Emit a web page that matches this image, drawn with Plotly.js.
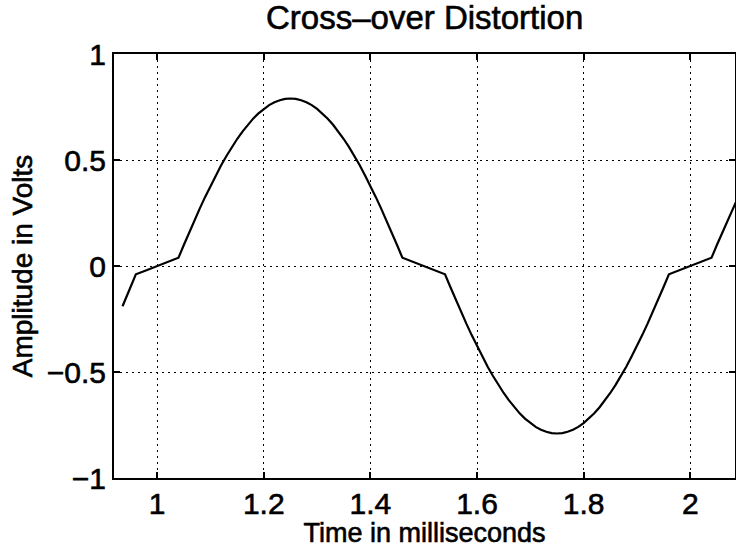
<!DOCTYPE html>
<html>
<head>
<meta charset="utf-8">
<script src="https://cdn.plot.ly/plotly-3.0.1.min.js"></script>
<style>
html,body{margin:0;padding:0;background:#fff;}
#chart text{stroke:#000;stroke-width:0.6px;}
</style>
</head>
<body>
<div id="chart" style="width:736px;height:548px;"></div>
<script>
// Time in milliseconds
var timeMs = [0.935, 0.96, 0.98, 1.00, 1.02, 1.04, 1.05, 1.06, 1.07, 1.08, 1.09, 1.10, 1.11, 1.12, 1.13, 1.14, 1.15, 1.16, 1.17, 1.18, 1.19, 1.20, 1.21, 1.22, 1.23, 1.24, 1.25, 1.26, 1.27, 1.28, 1.29, 1.30, 1.31, 1.32, 1.33, 1.34, 1.35, 1.36, 1.37, 1.38, 1.39, 1.40, 1.41, 1.42, 1.43, 1.44, 1.45, 1.46, 1.48, 1.50, 1.52, 1.54, 1.55, 1.56, 1.57, 1.58, 1.59, 1.60, 1.61, 1.62, 1.63, 1.64, 1.65, 1.66, 1.67, 1.68, 1.69, 1.70, 1.71, 1.72, 1.73, 1.74, 1.75, 1.76, 1.77, 1.78, 1.79, 1.80, 1.81, 1.82, 1.83, 1.84, 1.85, 1.86, 1.87, 1.88, 1.89, 1.90, 1.91, 1.92, 1.93, 1.94, 1.95, 1.96, 1.98, 2.00, 2.02, 2.04, 2.05, 2.06, 2.07, 2.08, 2.09, 2.10];
// Amplitude in volts
var amplitude = [-0.19, -0.039, -0.02, 0.00, 0.02, 0.039, 0.099, 0.158, 0.216, 0.272, 0.326, 0.378, 0.427, 0.475, 0.519, 0.561, 0.599, 0.634, 0.666, 0.695, 0.720, 0.741, 0.759, 0.772, 0.782, 0.788, 0.790, 0.788, 0.782, 0.772, 0.759, 0.741, 0.720, 0.695, 0.666, 0.634, 0.599, 0.561, 0.519, 0.475, 0.427, 0.378, 0.326, 0.272, 0.216, 0.158, 0.099, 0.039, 0.02, 0.00, -0.02, -0.039, -0.099, -0.158, -0.216, -0.272, -0.326, -0.378, -0.427, -0.475, -0.519, -0.561, -0.599, -0.634, -0.666, -0.695, -0.720, -0.741, -0.759, -0.772, -0.782, -0.788, -0.790, -0.788, -0.782, -0.772, -0.759, -0.741, -0.720, -0.695, -0.666, -0.634, -0.599, -0.561, -0.519, -0.475, -0.427, -0.378, -0.326, -0.272, -0.216, -0.158, -0.099, -0.039, -0.02, 0.00, 0.02, 0.039, 0.099, 0.158, 0.216, 0.272, 0.326, 0.378];
var xTicks = [1, 1.2, 1.4, 1.6, 1.8, 2];
var xTickLabels = ["1", "1.2", "1.4", "1.6", "1.8", "2"];
var yTicks = [-1, -0.5, 0, 0.5, 1];
var yTickLabels = ["\u22121", "\u22120.5", "0", "0.5", "1"];

var font = "Liberation Sans, Arial, Helvetica, sans-serif";

var trace = {
  x: timeMs,
  y: amplitude,
  type: "scatter",
  mode: "lines",
  line: {color: "#000", width: 2.2},
  hoverinfo: "skip"
};

var axisCommon = {
  showline: true,
  linecolor: "#000",
  linewidth: 2,
  mirror: "ticks",
  ticks: "inside",
  ticklen: 6,
  tickwidth: 2,
  tickcolor: "#000",
  showgrid: true,
  gridcolor: "#000",
  gridwidth: 1,
  griddash: "2px,4px",
  zeroline: false,
  tickfont: {family: font, size: 30, color: "#000"},
  tickmode: "array"
};

var layout = {
  width: 736,
  height: 548,
  margin: {l: 114, r: 1, t: 54, b: 70},
  paper_bgcolor: "#fff",
  plot_bgcolor: "#fff",
  showlegend: false,
  title: {
    text: "Cross\u2013over Distortion",
    font: {family: font, size: 33, color: "#000"},
    x: 0.577, xanchor: "center",
    y: 0.968, yanchor: "middle"
  },
  xaxis: Object.assign({}, axisCommon, {
    range: [0.919, 2.084],
    tickvals: xTicks,
    ticktext: xTickLabels,
    ticklabelstandoff: -2,
    title: {text: "Time in milliseconds", font: {family: font, size: 27, color: "#000"}, standoff: -15}
  }),
  yaxis: Object.assign({}, axisCommon, {
    range: [-1, 1],
    tickvals: yTicks,
    ticktext: yTickLabels,
    ticklabelstandoff: 0,
    title: {text: "Amplitude in Volts", font: {family: font, size: 28, color: "#000"}, standoff: 6}
  })
};

Plotly.newPlot("chart", [trace], layout, {displayModeBar: false, staticPlot: true});
</script>
</body>
</html>
